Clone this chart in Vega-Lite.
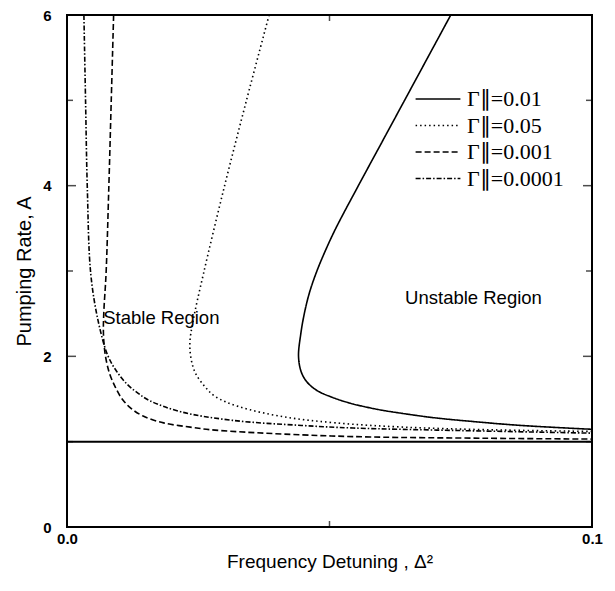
{
  "$schema": "https://vega.github.io/schema/vega-lite/v6.json",
  "width": 525,
  "height": 512,
  "autosize": {"type": "none"},
  "padding": {"left": 67, "top": 15, "right": 23, "bottom": 64},
  "background": "white",
  "config": {
    "view": {"stroke": "black", "strokeWidth": 2},
    "axis": {"grid": false, "domain": false, "ticks": false, "labelColor": "black", "titleColor": "black", "labelFont": "Liberation Sans", "titleFont": "Liberation Sans", "titleFontWeight": "normal"},
    "legend": {"orient": "none", "legendX": 356, "legendY": 69}
  },
  "resolve": {"axis": {"x": "independent", "y": "independent"}},
  "datasets": {
    "curves": [
      {"g": "0.01", "i": 1, "x": 0.0731, "y": 6.0},
      {"g": "0.01", "i": 2, "x": 0.0687, "y": 5.5},
      {"g": "0.01", "i": 3, "x": 0.0643, "y": 5.0},
      {"g": "0.01", "i": 4, "x": 0.0599, "y": 4.5},
      {"g": "0.01", "i": 5, "x": 0.0555, "y": 4.0},
      {"g": "0.01", "i": 6, "x": 0.0512, "y": 3.5},
      {"g": "0.01", "i": 7, "x": 0.0493, "y": 3.25},
      {"g": "0.01", "i": 8, "x": 0.0476, "y": 3.0},
      {"g": "0.01", "i": 9, "x": 0.0462, "y": 2.75},
      {"g": "0.01", "i": 10, "x": 0.0452, "y": 2.5},
      {"g": "0.01", "i": 11, "x": 0.0445, "y": 2.25},
      {"g": "0.01", "i": 12, "x": 0.0441, "y": 2.0},
      {"g": "0.01", "i": 13, "x": 0.0446, "y": 1.82},
      {"g": "0.01", "i": 14, "x": 0.0457, "y": 1.7},
      {"g": "0.01", "i": 15, "x": 0.0476, "y": 1.6},
      {"g": "0.01", "i": 16, "x": 0.0505, "y": 1.52},
      {"g": "0.01", "i": 17, "x": 0.054, "y": 1.45},
      {"g": "0.01", "i": 18, "x": 0.059, "y": 1.38},
      {"g": "0.01", "i": 19, "x": 0.064, "y": 1.33},
      {"g": "0.01", "i": 20, "x": 0.07, "y": 1.28},
      {"g": "0.01", "i": 21, "x": 0.0775, "y": 1.235},
      {"g": "0.01", "i": 22, "x": 0.0865, "y": 1.19},
      {"g": "0.01", "i": 23, "x": 0.1, "y": 1.145},

      {"g": "0.05", "i": 1, "x": 0.0385, "y": 6.0},
      {"g": "0.05", "i": 2, "x": 0.0341, "y": 4.98},
      {"g": "0.05", "i": 3, "x": 0.0299, "y": 3.97},
      {"g": "0.05", "i": 4, "x": 0.026, "y": 2.97},
      {"g": "0.05", "i": 5, "x": 0.024, "y": 2.41},
      {"g": "0.05", "i": 6, "x": 0.0234, "y": 2.15},
      {"g": "0.05", "i": 7, "x": 0.0237, "y": 1.95},
      {"g": "0.05", "i": 8, "x": 0.0245, "y": 1.8},
      {"g": "0.05", "i": 9, "x": 0.0262, "y": 1.65},
      {"g": "0.05", "i": 10, "x": 0.0282, "y": 1.53},
      {"g": "0.05", "i": 11, "x": 0.0328, "y": 1.41},
      {"g": "0.05", "i": 12, "x": 0.0414, "y": 1.29},
      {"g": "0.05", "i": 13, "x": 0.0512, "y": 1.22},
      {"g": "0.05", "i": 14, "x": 0.0643, "y": 1.17},
      {"g": "0.05", "i": 15, "x": 0.08, "y": 1.14},
      {"g": "0.05", "i": 16, "x": 0.1, "y": 1.12},

      {"g": "0.001", "i": 1, "x": 0.00888, "y": 6.0},
      {"g": "0.001", "i": 2, "x": 0.00842, "y": 4.98},
      {"g": "0.001", "i": 3, "x": 0.00796, "y": 3.97},
      {"g": "0.001", "i": 4, "x": 0.00744, "y": 2.97},
      {"g": "0.001", "i": 5, "x": 0.007, "y": 2.5},
      {"g": "0.001", "i": 6, "x": 0.00695, "y": 2.25},
      {"g": "0.001", "i": 7, "x": 0.00731, "y": 2.01},
      {"g": "0.001", "i": 8, "x": 0.0081, "y": 1.8},
      {"g": "0.001", "i": 9, "x": 0.0092, "y": 1.64},
      {"g": "0.001", "i": 10, "x": 0.0105, "y": 1.5},
      {"g": "0.001", "i": 11, "x": 0.0122, "y": 1.39},
      {"g": "0.001", "i": 12, "x": 0.0145, "y": 1.3},
      {"g": "0.001", "i": 13, "x": 0.0184, "y": 1.22},
      {"g": "0.001", "i": 14, "x": 0.0235, "y": 1.17},
      {"g": "0.001", "i": 15, "x": 0.0282, "y": 1.135},
      {"g": "0.001", "i": 16, "x": 0.0447, "y": 1.08},
      {"g": "0.001", "i": 17, "x": 0.0578, "y": 1.055},
      {"g": "0.001", "i": 18, "x": 0.08, "y": 1.04},
      {"g": "0.001", "i": 19, "x": 0.1, "y": 1.03},

      {"g": "0.0001", "i": 1, "x": 0.00322, "y": 6.0},
      {"g": "0.0001", "i": 2, "x": 0.00354, "y": 4.98},
      {"g": "0.0001", "i": 3, "x": 0.00387, "y": 3.97},
      {"g": "0.0001", "i": 4, "x": 0.00452, "y": 2.97},
      {"g": "0.0001", "i": 5, "x": 0.00595, "y": 2.41},
      {"g": "0.0001", "i": 6, "x": 0.00777, "y": 2.01},
      {"g": "0.0001", "i": 7, "x": 0.0095, "y": 1.82},
      {"g": "0.0001", "i": 8, "x": 0.0115, "y": 1.67},
      {"g": "0.0001", "i": 9, "x": 0.0135, "y": 1.57},
      {"g": "0.0001", "i": 10, "x": 0.01575, "y": 1.48},
      {"g": "0.0001", "i": 11, "x": 0.0217, "y": 1.35},
      {"g": "0.0001", "i": 12, "x": 0.0315, "y": 1.25},
      {"g": "0.0001", "i": 13, "x": 0.0447, "y": 1.19},
      {"g": "0.0001", "i": 14, "x": 0.0545, "y": 1.16},
      {"g": "0.0001", "i": 15, "x": 0.075, "y": 1.13},
      {"g": "0.0001", "i": 16, "x": 0.1, "y": 1.1}
    ],
    "labels": [
      {"text": "Stable Region", "x": 0.0069, "y": 2.45},
      {"text": "Unstable Region", "x": 0.0644, "y": 2.68}
    ],
    "yticks": [
      {"v": 0, "kind": "major"}, {"v": 1, "kind": "minor"}, {"v": 2, "kind": "major"},
      {"v": 3, "kind": "minor"}, {"v": 4, "kind": "major"}, {"v": 5, "kind": "minor"}, {"v": 6, "kind": "major"}
    ],
    "xticks": [{"v": 0.05, "kind": "minor"}]
  },
  "layer": [
    {
      "data": {"name": "xticks"},
      "mark": {"type": "rule", "color": "black", "strokeWidth": 2},
      "encoding": {
        "x": {"datum": 0, "type": "quantitative", "scale": {"domain": [0, 0.1], "nice": false, "zero": false}, "axis": null},
        "x2": {"datum": 0.1},
        "y": {"datum": 1, "type": "quantitative", "scale": {"domain": [0, 6], "nice": false}, "axis": null}
      }
    },
    {
      "data": {"name": "curves"},
      "mark": {"type": "line", "color": "black", "strokeWidth": 1.6, "clip": true, "interpolate": "catmull-rom"},
      "encoding": {
        "x": {
          "field": "x", "type": "quantitative",
          "scale": {"domain": [0, 0.1], "nice": false, "zero": false},
          "axis": {
            "orient": "bottom", "values": [0, 0.1],
            "format": ".1f",
            "labelFontWeight": "bold", "labelFontSize": 15, "labelPadding": 4, "labelFlush": false, "labelOverlap": false,
            "title": "Frequency Detuning , Δ²", "titleFontSize": 19, "titlePadding": 6
          }
        },
        "y": {
          "field": "y", "type": "quantitative",
          "scale": {"domain": [0, 6], "nice": false},
          "axis": {
            "orient": "left", "values": [0, 2, 4, 6],
            "labelFontWeight": "bold", "labelFontSize": 15, "labelPadding": 16, "labelOverlap": false,
            "title": "Pumping Rate, A", "titleFontSize": 20, "titlePadding": 8
          }
        },
        "strokeDash": {
          "field": "g", "type": "nominal",
          "scale": {
            "domain": ["0.01", "0.05", "0.001", "0.0001"],
            "range": [[1, 0], [1.5, 3], [6, 3], [5, 2, 1.5, 2]]
          },
          "legend": {
            "title": null, "symbolType": "M-1.6,0L1.6,0", "symbolSize": 784, "symbolStrokeWidth": 1.3,
            "symbolStrokeColor": "black", "symbolFillColor": "transparent", "labelFont": "Liberation Serif", "labelFontSize": 22,
            "labelExpr": "'Γ∥=' + datum.label", "rowPadding": 0.5, "labelOffset": 14, "padding": 0
          }
        },
        "order": {"field": "i", "type": "quantitative"}
      }
    },
    {
      "data": {"name": "labels"},
      "mark": {"type": "text", "align": "left", "baseline": "middle", "font": "Liberation Sans", "fontSize": 18.5, "color": "black"},
      "encoding": {
        "x": {"field": "x", "type": "quantitative", "axis": null},
        "y": {"field": "y", "type": "quantitative", "axis": null},
        "text": {"field": "text"}
      }
    },
    {
      "data": {"name": "yticks"},
      "mark": {"type": "tick", "orient": "horizontal", "color": "black", "thickness": 1.5, "clip": true},
      "encoding": {
        "x": {"datum": 0, "type": "quantitative", "axis": null},
        "y": {"field": "v", "type": "quantitative", "axis": null},
        "size": {"condition": {"test": "datum.kind == 'major'", "value": 18}, "value": 12}
      }
    },
    {
      "data": {"name": "yticks"},
      "mark": {"type": "tick", "orient": "horizontal", "color": "black", "thickness": 1.5, "clip": true},
      "encoding": {
        "x": {"datum": 0.1, "type": "quantitative", "axis": null},
        "y": {"field": "v", "type": "quantitative", "axis": null},
        "size": {"condition": {"test": "datum.kind == 'major'", "value": 18}, "value": 12}
      }
    },
    {
      "data": {"name": "xticks"},
      "mark": {"type": "tick", "orient": "vertical", "color": "black", "thickness": 1.5, "clip": true, "size": 12},
      "encoding": {
        "x": {"field": "v", "type": "quantitative", "axis": null},
        "y": {"datum": 0, "type": "quantitative", "axis": null}
      }
    },
    {
      "data": {"name": "xticks"},
      "mark": {"type": "tick", "orient": "vertical", "color": "black", "thickness": 1.5, "clip": true, "size": 12},
      "encoding": {
        "x": {"field": "v", "type": "quantitative", "axis": null},
        "y": {"datum": 6, "type": "quantitative", "axis": null}
      }
    }
  ]
}
